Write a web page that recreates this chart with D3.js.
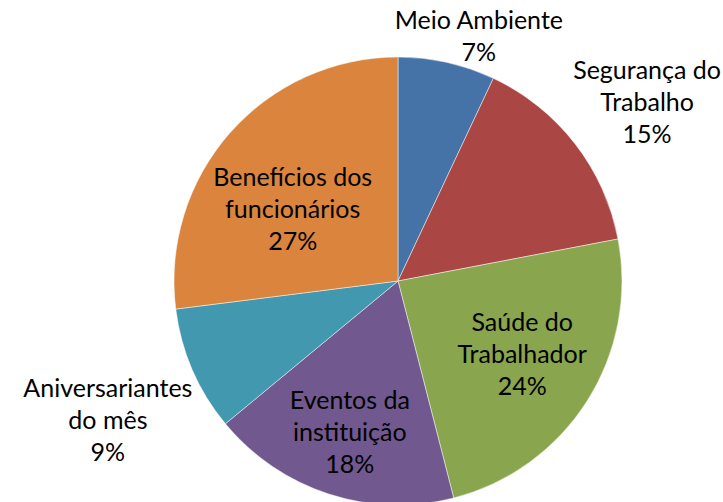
<!DOCTYPE html>
<html>
<head>
<meta charset="utf-8">
<script src="https://cdn.jsdelivr.net/npm/d3@7"></script>
<style>
  body { margin: 0; background: #fff; }
  svg { display: block; }
</style>
</head>
<body>
<div id="chart"></div>
<script>
const width = 723;
const height = 502;

// Data
const categories = ["Meio Ambiente", "Segurança do Trabalho", "Saúde do Trabalhador",
    "Eventos da instituição", "Aniversariantes do mês", "Benefícios dos funcionários"];
const values = [7, 15, 24, 18, 9, 27];
const labelLines = [
    ["Meio Ambiente"],
    ["Segurança do", "Trabalho"],
    ["Saúde do", "Trabalhador"],
    ["Eventos da", "instituição"],
    ["Aniversariantes", "do mês"],
    ["Benefícios dos", "funcionários"]
];
const colors = ["#4572A7", "#AA4643", "#89A54E", "#71588F", "#4198AF", "#DB843D"];

const cx = 398, cy = 281, radius = 224;
const lineH = 32;
const total = d3.sum(values);

const data = categories.map((c, i) => ({ name: c, value: values[i], lines: labelLines[i] }));

const svg = d3.select("#chart")
    .append("svg")
    .attr("width", width)
    .attr("height", height);

const g = svg.append("g")
    .attr("transform", `translate(${cx},${cy})`);

const pie = d3.pie().sort(null).value(d => d.value);
const arc = d3.arc().innerRadius(0).outerRadius(radius);
const arcs = pie(data);

// Slices
g.selectAll("path.slice")
    .data(arcs)
    .join("path")
    .attr("class", "slice")
    .attr("d", arc)
    .attr("fill", (d, i) => colors[i])
    .attr("stroke", "#ffffff")
    .attr("stroke-opacity", 0.6)
    .attr("stroke-width", 0.8);

// Labels
const labels = g.selectAll("g.label")
    .data(arcs)
    .join("g")
    .attr("class", "label");

labels.each(function (d) {
    const el = d3.select(this);
    const lines = d.data.lines.concat([Math.round(d.data.value / total * 100) + "%"]);
    const t = el.append("text")
        .attr("text-anchor", "middle")
        .style("font-family", "Lato, 'Open Sans', sans-serif")
        .style("font-size", "25px")
        .style("fill", "#000");
    lines.forEach((line, i) => {
        t.append("tspan").attr("x", 0).attr("y", i * lineH).text(line);
    });
    d.w = t.node().getBBox().width;
    d.h = lines.length * lineH - 4;
});

const fits = (x, y, d) => d3.max([[-1, -1], [1, -1], [-1, 1], [1, 1]],
    ([a, b]) => Math.hypot(x + a * d.w / 2, y + b * d.h / 2)) <= radius - 2;

const boxes = [];
arcs.forEach(d => {
    const mid = (d.startAngle + d.endAngle) / 2;
    const s = Math.sin(mid), c = Math.cos(mid);
    let x, y;
    if (d.data.value / total < 0.16) {
        // outside: nearest corner of label box sits on the rim along mid angle
        x = radius * s + Math.sign(s) * d.w / 2;
        y = -radius * c - Math.sign(c) * d.h / 2;
        d.outside = true;
    } else {
        // inside: start at 0.7r, slide inwards (half radial, half vertical) until it fits
        x = radius * 0.7 * s;
        y = -radius * 0.7 * c;
        let mx = -s, my = c + Math.sign(c || 1);
        const len = Math.hypot(mx, my);
        mx /= len; my /= len;
        let steps = 0;
        while (!fits(x, y, d) && steps < 300) {
            x += mx; y += my; steps++;
        }
    }
    d.x = x; d.y = y;
    if (d.outside) boxes.push(d);
});

// resolve overlaps between outside labels
for (let i = 0; i < boxes.length; i++) {
    for (let j = i + 1; j < boxes.length; j++) {
        const a = boxes[i], b = boxes[j];
        const ox = Math.min(a.x + a.w / 2, b.x + b.w / 2) - Math.max(a.x - a.w / 2, b.x - b.w / 2);
        const oy = Math.min(a.y + a.h / 2, b.y + b.h / 2) - Math.max(a.y - a.h / 2, b.y - b.h / 2);
        if (ox > -12 && oy > 0) {
            if (a.x < b.x) a.x -= ox + 12; else a.x += ox + 12;
        }
    }
}

labels.attr("transform", d => {
    const x = Math.max(-cx + d.w / 2 + 2, Math.min(width - cx - d.w / 2 - 2, d.x));
    const top = d.y - d.h / 2;
    return `translate(${x},${top + 27})`;
});
</script>
</body>
</html>
